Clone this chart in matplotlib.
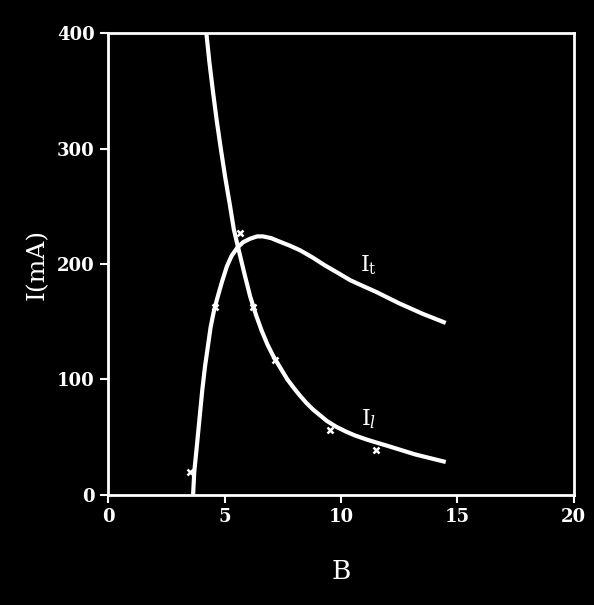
import matplotlib
matplotlib.use("Agg")
import matplotlib.pyplot as plt

plt.rcParams['mathtext.fontset'] = 'dejavuserif'

# I_l curve (falling)
bl = [4.22, 4.35, 4.5, 4.66, 4.84, 5.03, 5.24, 5.4, 5.6, 5.85, 6.1, 6.35, 6.6, 6.85,
      7.1, 7.4, 7.7, 8.0, 8.24, 8.5, 8.8, 9.1, 9.4, 9.8, 10.2, 10.6, 11.1, 11.5,
      12.0, 12.4, 12.8, 13.2, 13.7, 14.1, 14.5]
il = [400, 375, 350, 325, 300, 275, 250, 230, 213, 192, 172, 156, 142, 130,
      120, 110, 100, 92, 86, 80, 74, 69, 64, 59, 55, 51.5, 48, 45.5,
      42.5, 40, 37.5, 35, 32.5, 30.5, 28.5]
# I_t curve (rise then fall)
bt = [3.65, 3.7, 3.8, 3.92, 4.04, 4.16, 4.28, 4.4, 4.53, 4.67, 4.88, 5.1, 5.3, 5.54,
      5.8, 6.1, 6.4, 6.65, 7.0, 7.3, 7.8, 8.24, 8.8, 9.3, 9.9, 10.4, 11.0, 11.5,
      12.0, 12.5, 13.0, 13.5, 14.0, 14.5]
it = [0, 20, 40, 65, 90, 111, 128, 145, 158, 169, 184, 198, 207, 214,
      219, 222, 224, 224, 222.5, 220, 216, 212, 205.5, 199, 192, 186, 180.5, 176,
      171, 166, 161.5, 157, 153, 149]
# measured points
bx_t = [3.5, 4.6, 5.67]
ix_t = [20, 163, 227]
bx_l = [6.22, 7.17, 9.53, 11.5]
ix_l = [163, 117, 56, 39]

xticks = [0, 5, 10, 15, 20]
yticks = [0, 100, 200, 300, 400]

fig = plt.figure(figsize=(5.94, 6.05), dpi=100, facecolor="black")
ax = fig.add_axes([0.182, 0.182, 0.784, 0.763], facecolor="black")

ax.plot(bl, il, color="white", lw=3, solid_capstyle="butt", solid_joinstyle="round")
ax.plot(bt, it, color="white", lw=3, solid_capstyle="butt", solid_joinstyle="round")
ax.plot(bx_t + bx_l, ix_t + ix_l, "x", color="white", ms=5, mew=1.8, ls="none")

ax.text(11.2, 199, r"$\mathrm{I}_\mathrm{t}$", color="white", fontsize=16,
        ha="center", va="center")
ax.text(11.2, 66, r"$\mathrm{I}_\mathit{l}$", color="white", fontsize=16,
        ha="center", va="center")

ax.set_xlim(0, 20)
ax.set_ylim(0, 400)
ax.set_xticks(xticks)
ax.set_yticks(yticks)
ax.tick_params(colors="white", labelsize=13, width=1.5, length=6, direction="out")
for lab in ax.get_xticklabels() + ax.get_yticklabels():
    lab.set_family("DejaVu Serif")
    lab.set_weight("semibold")
for s in ax.spines.values():
    s.set_color("white")
    s.set_linewidth(2)

ax.set_xlabel("B", color="white", fontsize=19, family="DejaVu Serif", labelpad=24)
ax.set_ylabel("I(mA)", color="white", fontsize=18, family="DejaVu Serif", labelpad=6)

fig.savefig("out.png", dpi=100, facecolor="black")
